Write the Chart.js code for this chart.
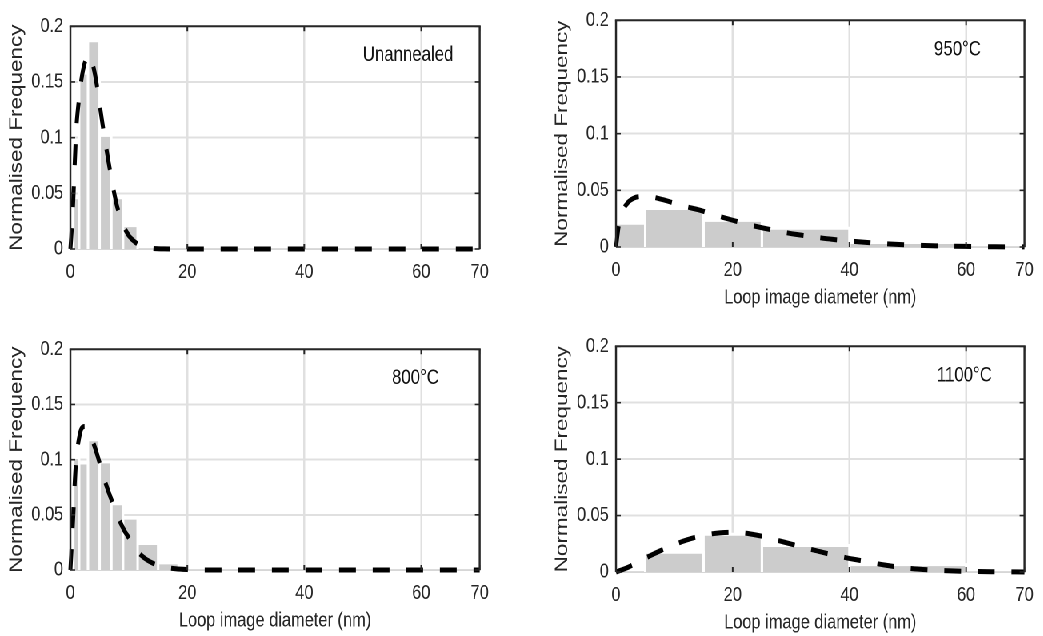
<!DOCTYPE html>
<html>
<head>
<meta charset="utf-8">
<title>Loop size distributions</title>
<script src="https://cdn.jsdelivr.net/npm/chart.js@4.4.1/dist/chart.umd.min.js"></script>
<style>
  html, body { margin: 0; padding: 0; background: #fff; overflow: hidden; }
  /* the figure is drawn wide and squeezed horizontally, like the original export */
  #fig { position: absolute; left: 0; top: 0; width: 1304px; height: 636px;
         transform: scaleX(0.8); transform-origin: 0 0; }
  #fig canvas { position: absolute; }
</style>
</head>
<body>
<div id="fig">
  <canvas id="p-unannealed"></canvas>
  <canvas id="p-950"></canvas>
  <canvas id="p-800"></canvas>
  <canvas id="p-1100"></canvas>
</div>
<script>
// axis ticks shared by all panels
const xTicks = [0, 20, 40, 60, 70];
const yTicks = [0, 0.05, 0.1, 0.15, 0.2];

// panel captions and where they sit (data units)
const panelLabels = ['Unannealed', '950°C', '800°C', '1100°C'];
const panelLabelX = [50, 54.5, 55, 55];
const panelLabelY = [0.174, 0.174, 0.174, 0.174];

// histogram bin edges (nm) and normalised frequencies
const unannealedEdges = [0.5, 1.5, 3, 5, 7, 9, 11.5];
const unannealedFreq  = [0.046, 0.158, 0.187, 0.102, 0.046, 0.021];

const t950Edges = [0, 5, 15, 25, 40, 60];
const t950Freq  = [0.021, 0.034, 0.0235, 0.0165, 0.004];

const t800Edges = [0.5, 1.5, 3, 5, 7, 9, 11.5, 15, 18.5];
const t800Freq  = [0.102, 0.097, 0.118, 0.098, 0.060, 0.047, 0.024, 0.0065];

const t1100Edges = [5, 15, 25, 40, 60];
const t1100Freq  = [0.0175, 0.0335, 0.0235, 0.0065];

// fitted distributions (dashed)
const unannealedFitX = [0, 0.25, 0.5, 0.75, 1, 1.5, 2, 2.5, 3, 3.5, 4, 4.5, 5, 5.5, 6, 6.5, 7, 7.5, 8, 9, 10, 11, 12, 13, 14, 16, 20, 30, 40, 50, 60, 70];
const unannealedFitY = [0, 0.02, 0.045, 0.078, 0.107, 0.136, 0.156, 0.168, 0.174, 0.171, 0.162, 0.148, 0.130, 0.112, 0.095, 0.079, 0.064, 0.050, 0.038, 0.022, 0.012, 0.0065, 0.003, 0.0015, 0.0006, 0.0001, 0, 0, 0, 0, 0, 0];

const t950FitX = [0, 0.5, 1, 2, 3, 4, 5, 6, 8, 10, 12, 14, 16, 18, 20, 22, 25, 28, 31, 34, 37, 40, 45, 50, 55, 60, 65, 70];
const t950FitY = [0, 0.02, 0.03, 0.039, 0.043, 0.0445, 0.0447, 0.0443, 0.0418, 0.0386, 0.0356, 0.033, 0.0298, 0.0266, 0.0236, 0.0207, 0.017, 0.0138, 0.011, 0.0088, 0.0068, 0.0053, 0.0032, 0.0018, 0.001, 0.0005, 0.0002, 0.0001];

const t800FitX = [0, 0.25, 0.5, 0.75, 1, 1.5, 2, 2.5, 3, 3.5, 4, 4.5, 5, 5.5, 6, 7, 8, 9, 10, 11, 12, 13, 14, 15, 16, 18, 20, 22, 25, 30, 40, 50, 60, 70];
const t800FitY = [0, 0.025, 0.05, 0.08, 0.1, 0.12, 0.129, 0.13, 0.127, 0.121, 0.114, 0.106, 0.097, 0.088, 0.079, 0.064, 0.05, 0.038, 0.029, 0.0205, 0.014, 0.0095, 0.0064, 0.0042, 0.0027, 0.0011, 0.0004, 0.0001, 0, 0, 0, 0, 0, 0];

const t1100FitX = [0, 2, 4, 6, 8, 10, 12, 14, 16, 18, 20, 22, 24, 26, 28, 30, 32, 34, 36, 38, 40, 43, 46, 50, 55, 60, 65, 70];
const t1100FitY = [0, 0.004, 0.0095, 0.0148, 0.0198, 0.0242, 0.0282, 0.0313, 0.0335, 0.0348, 0.0352, 0.0345, 0.0328, 0.0305, 0.0276, 0.0248, 0.0218, 0.0193, 0.0166, 0.0143, 0.012, 0.0092, 0.0062, 0.0034, 0.0015, 0.0006, 0.0002, 0];

const INK = '#262626';
const GRID = '#e0e0e0';
const BAR = '#cccccc';

Chart.defaults.font.family = '"Liberation Sans", Arial, Helvetica, sans-serif';
Chart.defaults.color = INK;

// box on left/top/right with inward ticks, drawn over the data
const axesBox = {
  id: 'axesBox',
  afterDatasetsDraw(chart) {
    const { ctx, chartArea: a, scales: { x, y } } = chart;
    ctx.save();
    ctx.strokeStyle = INK;
    ctx.lineWidth = 2;
    ctx.beginPath();
    ctx.moveTo(a.left - 1.2, a.top);
    ctx.lineTo(a.right + 1.2, a.top);
    ctx.stroke();
    ctx.lineWidth = 2.4;
    ctx.beginPath();
    ctx.moveTo(a.left, a.bottom); ctx.lineTo(a.left, a.top);
    ctx.moveTo(a.right, a.bottom); ctx.lineTo(a.right, a.top);
    ctx.stroke();

    ctx.lineWidth = 1.6;
    ctx.beginPath();
    y.ticks.forEach(t => {
      const py = y.getPixelForValue(t.value);
      ctx.moveTo(a.left, py); ctx.lineTo(a.left + 6, py);
      ctx.moveTo(a.right, py); ctx.lineTo(a.right - 6, py);
    });
    ctx.stroke();
    ctx.lineWidth = 2;
    ctx.beginPath();
    x.ticks.forEach(t => {
      const px = x.getPixelForValue(t.value);
      ctx.moveTo(px, a.top); ctx.lineTo(px, a.top + 5);
      ctx.moveTo(px, a.bottom); ctx.lineTo(px, a.bottom - 5);
    });
    ctx.stroke();
    ctx.restore();
  }
};

// caption inside the plot, placed in data coordinates
const panelText = {
  id: 'panelText',
  afterDraw(chart, args, opts) {
    const { ctx, scales: { x, y } } = chart;
    ctx.save();
    ctx.font = '21px "Liberation Sans", Arial, sans-serif';
    ctx.fillStyle = '#111';
    ctx.textAlign = 'left';
    ctx.textBaseline = 'middle';
    ctx.fillText(opts.text, x.getPixelForValue(opts.x), y.getPixelForValue(opts.y));
    ctx.restore();
  }
};

// canvas boxes [left, top, width, height] inside the squeezed figure
const panels = [
  { id: 'p-unannealed', box: [0, 5, 622, 310],   edges: unannealedEdges, freq: unannealedFreq, fitX: unannealedFitX, fitY: unannealedFitY, label: 0, xTitle: false },
  { id: 'p-950',        box: [682, -1, 621, 314], edges: t950Edges,       freq: t950Freq,       fitX: t950FitX,       fitY: t950FitY,       label: 1, xTitle: true },
  { id: 'p-800',        box: [0, 328, 622, 308],  edges: t800Edges,       freq: t800Freq,       fitX: t800FitX,       fitY: t800FitY,       label: 2, xTitle: true },
  { id: 'p-1100',       box: [682, 325, 621, 313], edges: t1100Edges,     freq: t1100Freq,      fitX: t1100FitX,      fitY: t1100FitY,      label: 3, xTitle: true },
];

function makePanel(p) {
  const cv = document.getElementById(p.id);
  const [left, top, w, h] = p.box;
  cv.style.left = left + 'px';
  cv.style.top = top + 'px';
  cv.style.width = w + 'px';
  cv.style.height = h + 'px';
  cv.width = w;
  cv.height = h;

  // one outline per bin, filled grey with a white edge
  const bars = p.freq.map((f, i) => ({
    data: [
      { x: p.edges[i], y: 0 }, { x: p.edges[i], y: f },
      { x: p.edges[i + 1], y: f }, { x: p.edges[i + 1], y: 0 }
    ],
    fill: 'origin',
    backgroundColor: BAR,
    borderColor: '#ffffff',
    borderWidth: 3,
    pointRadius: 0,
    clip: 2,
    order: 1
  }));

  // clip margin keeps the full stroke width along y = 0
  const fit = {
    data: p.fitX.map((x, i) => ({ x, y: p.fitY[i] })),
    borderColor: '#000',
    borderWidth: 5,
    borderDash: [21, 21],
    borderCapStyle: 'butt',
    cubicInterpolationMode: 'monotone',
    fill: false,
    pointRadius: 0,
    clip: 4,
    order: 0
  };

  return new Chart(cv, {
    type: 'line',
    data: { datasets: [fit, ...bars] },
    plugins: [axesBox, panelText],
    options: {
      responsive: false,
      animation: false,
      devicePixelRatio: 2,
      layout: { padding: { left: 0, right: 13, top: 14, bottom: 0 } },
      plugins: {
        legend: { display: false },
        tooltip: { enabled: false },
        panelText: { text: panelLabels[p.label], x: panelLabelX[p.label], y: panelLabelY[p.label] }
      },
      scales: {
        x: {
          type: 'linear', min: 0, max: 70,
          afterBuildTicks: s => { s.ticks = xTicks.map(v => ({ value: v })); },
          afterFit: s => { s.height = 66; },
          grid: { color: GRID, lineWidth: 2.5, drawTicks: false },
          border: { color: '#d6d6d6', width: 1.5 },
          ticks: { autoSkip: false, maxRotation: 0, padding: 11, font: { size: 20.5 }, color: INK, callback: v => String(v) },
          title: { display: p.xTitle, text: 'Loop image diameter (nm)', font: { size: 20.5 }, color: INK, padding: { top: 0, bottom: 3 } }
        },
        y: {
          type: 'linear', min: 0, max: 0.2,
          afterBuildTicks: s => { s.ticks = yTicks.map(v => ({ value: v })); },
          afterFit: s => { s.width = 88; },
          grid: { color: GRID, lineWidth: 2, drawTicks: false },
          border: { display: false },
          ticks: { padding: 9, font: { size: 20.5 }, color: INK, callback: v => String(v) },
          title: { display: true, text: 'Normalised Frequency', font: { size: 22.5 }, color: INK, padding: { top: 7.5, bottom: 0 } }
        }
      }
    }
  });
}

panels.forEach(makePanel);
</script>
</body>
</html>
